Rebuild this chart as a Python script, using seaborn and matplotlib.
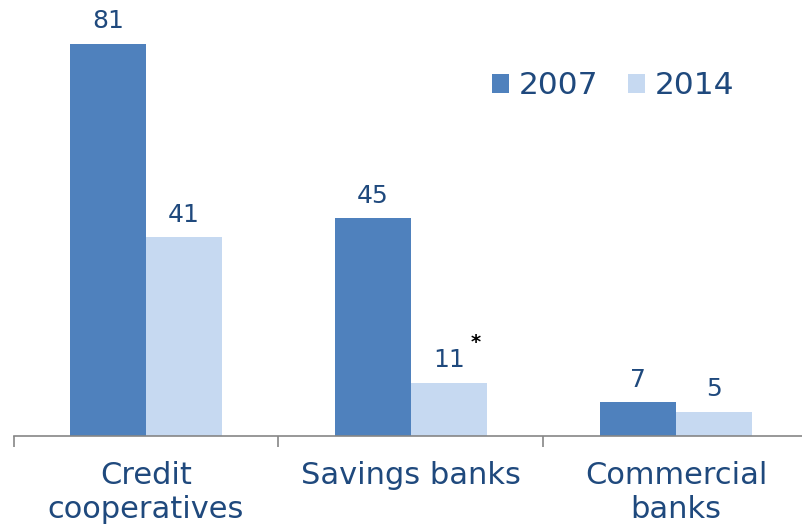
import matplotlib
matplotlib.use("Agg")
import matplotlib.pyplot as plt
import seaborn as sns
import pandas as pd

categories = ["Credit\ncooperatives", "Savings banks", "Commercial\nbanks"]
years = ["2007", "2014"]
values_2007 = [81, 45, 7]
values_2014 = [41, 11, 5]
label_notes_2014 = ["", "*", ""]

df = pd.DataFrame({
    "category": categories * 2,
    "year": [years[0]] * 3 + [years[1]] * 3,
    "value": values_2007 + values_2014,
})

sns.set_style("white")
plt.rcParams["font.family"] = ["DejaVu Sans"]

navy = "#1F497D"
palette = {"2007": "#4F81BD", "2014": "#C6D9F1"}

fig = plt.figure(figsize=(8.03, 5.25), dpi=100)
ax = fig.add_axes([13.5 / 803, 89 / 525, 795 / 803, 1 - 89 / 525])

sns.barplot(data=df, x="category", y="value", hue="year", palette=palette,
            width=0.574, gap=0, saturation=1, linewidth=0, ax=ax, legend=True)

ax.set_ylim(0, 90)
ax.set_xlim(-0.5, 2.5)
ax.set_xlabel("")
ax.set_ylabel("")
ax.set_yticks([])
for side in ["top", "right", "left"]:
    ax.spines[side].set_visible(False)
ax.spines["bottom"].set_color("#868686")
ax.spines["bottom"].set_linewidth(1.2)

ax.set_xticks([0, 1, 2])
ax.set_xticklabels(categories, fontsize=22, color=navy, linespacing=1.22)
ax.tick_params(axis="x", which="both", bottom=True)
ax.tick_params(axis="x", which="major", length=0, pad=18)
ax.set_xticks([-0.5, 0.5, 1.5], minor=True)
ax.tick_params(axis="x", which="minor", length=8, color="#868686", width=1.2)

# value labels above each bar
for container, notes in zip(ax.containers, [["", "", ""], label_notes_2014]):
    ax.bar_label(container, fontsize=18, color=navy, padding=7.5)
    for bar, note in zip(container, notes):
        if note:
            x = bar.get_x() + bar.get_width() * 0.855
            y = bar.get_height()
            ax.annotate(note, (x, y), xytext=(0, 36), textcoords="offset points",
                        ha="center", va="top", fontsize=14, color="black",
                        fontweight="bold")

leg = ax.legend(loc="upper right", bbox_to_anchor=(0.922, 0.865), ncol=2,
                frameon=False, fontsize=22.5, handlelength=0.55, handleheight=0.55,
                handletextpad=0.3, columnspacing=0.95, borderaxespad=0)
for t in leg.get_texts():
    t.set_color(navy)

fig.savefig("out.png", dpi=100)
